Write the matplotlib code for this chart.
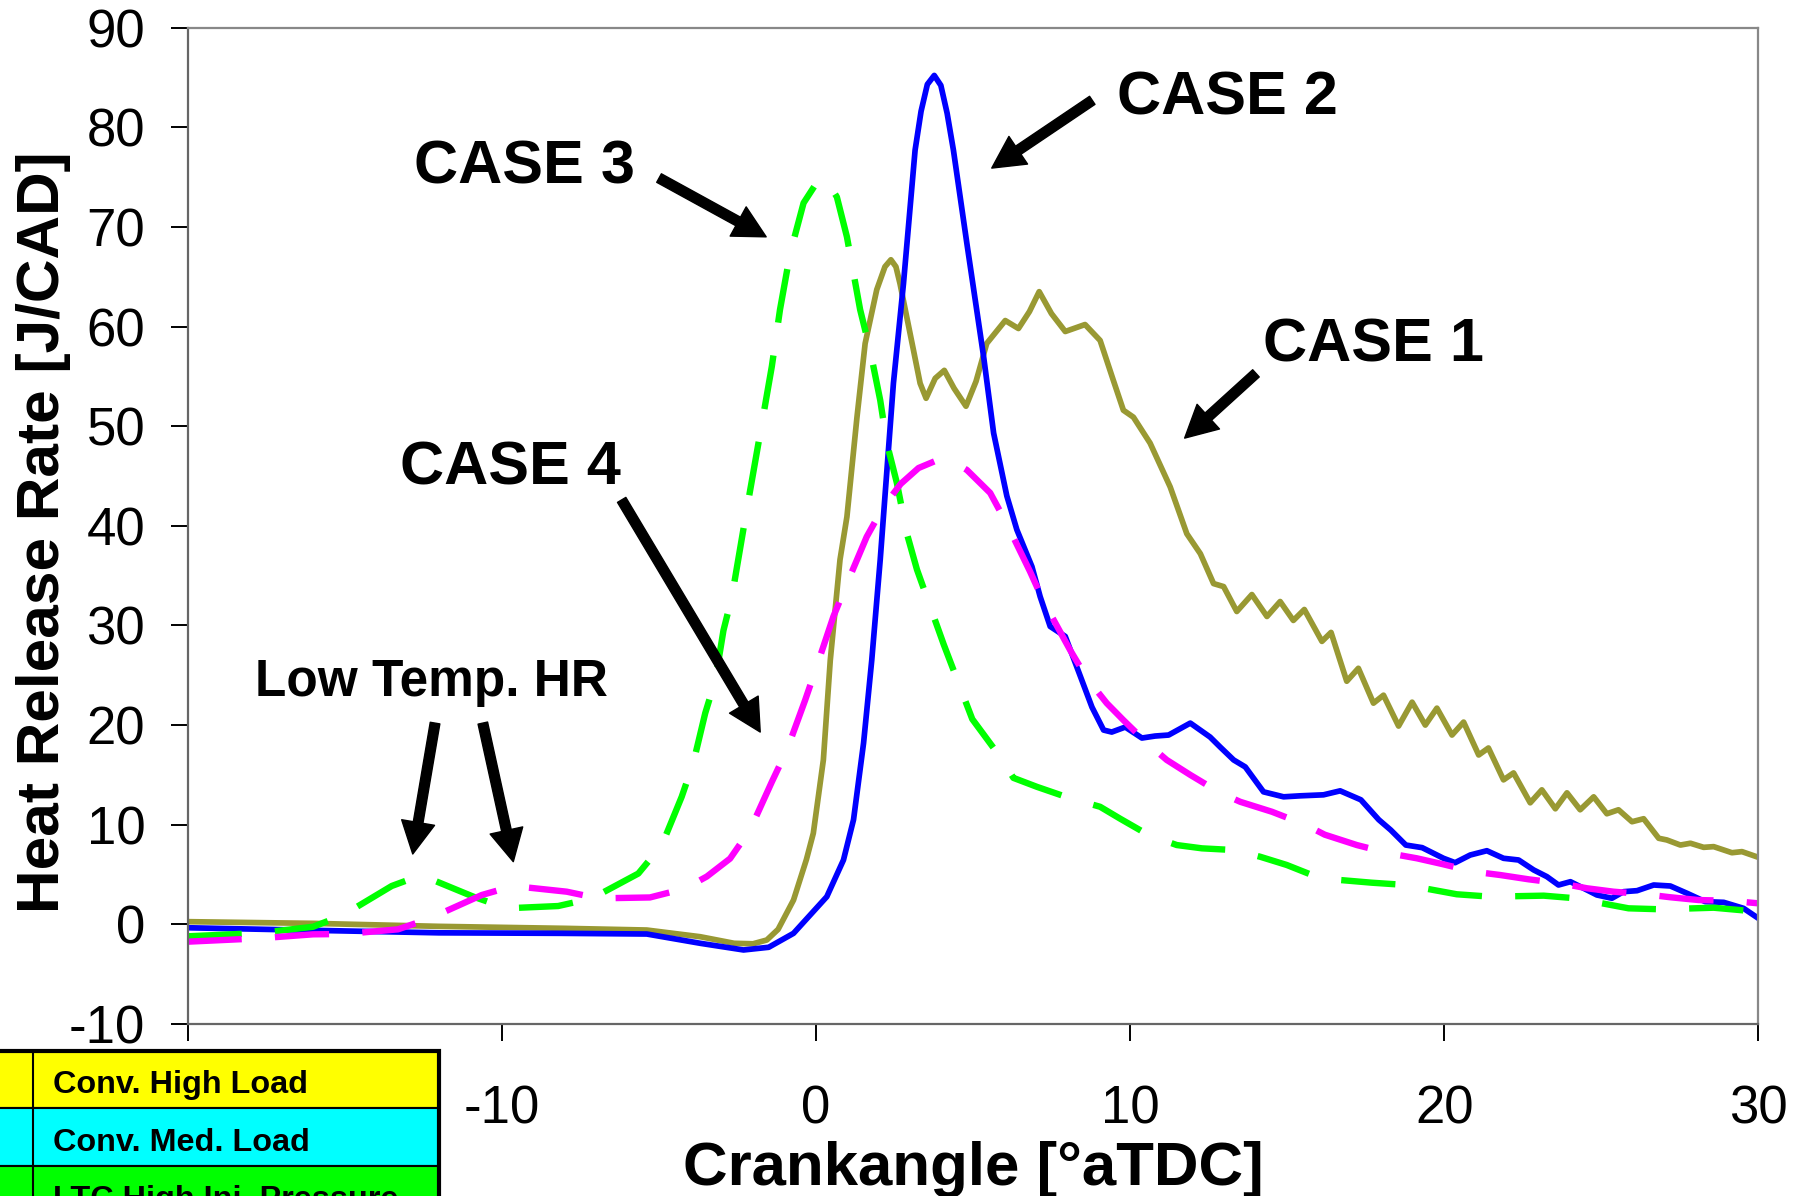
import numpy as np
import matplotlib
matplotlib.use('Agg')
import matplotlib.pyplot as plt
from matplotlib.patches import Rectangle

plt.rcParams['font.family'] = 'Liberation Sans'
plt.rcParams['axes.unicode_minus'] = False

# Heat release traces, crank angle [deg aTDC] vs HRR [J/CAD]
case1_x = [-20, -16, -12, -8, -5.38, -3.68, -2.6, -2.0, -1.56, -1.2, -0.71, -0.3, -0.08, 0.24,
           0.46, 0.77, 0.99, 1.31, 1.57, 1.94, 2.2, 2.39, 2.55, 2.68, 3.11, 3.32, 3.51, 3.8,
           4.09, 4.4, 4.78, 5.1, 5.44, 6.03, 6.45, 6.8, 7.11, 7.5, 7.94, 8.57, 9.05, 9.47,
           9.79, 10.11, 10.64, 11.28, 11.81, 12.24, 12.66, 12.98, 13.4, 13.88, 14.36, 14.78,
           15.2, 15.55, 16.11, 16.4, 16.9, 17.27, 17.75, 18.07, 18.55, 18.98, 19.4, 19.77,
           20.25, 20.62, 21.1, 21.41, 21.89, 22.21, 22.74, 23.11, 23.54, 23.91, 24.33, 24.76,
           25.18, 25.55, 25.98, 26.35, 26.83, 27.09, 27.52, 27.84, 28.26, 28.58, 29.16, 29.48,
           30]
case1_y = [0.27, 0.1, -0.2, -0.4, -0.57, -1.24, -1.9, -1.95, -1.57, -0.5, 2.44, 6.5, 9.14, 16.5,
           26.5, 36.6, 40.9, 50.9, 58.3, 63.7, 66.0, 66.7, 66.0, 64.3, 57.6, 54.3, 52.8, 54.8,
           55.6, 53.8, 52.0, 54.5, 58.3, 60.6, 59.8, 61.5, 63.5, 61.3, 59.5, 60.2, 58.6, 54.6,
           51.6, 50.9, 48.3, 43.9, 39.2, 37.2, 34.2, 33.9, 31.4, 33.1, 30.9, 32.4,
           30.5, 31.6, 28.4, 29.3, 24.4, 25.7, 22.2, 23.0, 19.9, 22.3, 20.0, 21.7,
           19.0, 20.3, 17.0, 17.7, 14.5, 15.2, 12.2, 13.5, 11.6, 13.2, 11.5, 12.8,
           11.1, 11.5, 10.3, 10.6, 8.64, 8.47, 7.96, 8.14, 7.73, 7.8, 7.19, 7.3,
           6.73]

case2_x = [-20, -16, -12, -8.14, -5.38, -3.68, -2.3, -1.5, -0.71, 0.35, 0.88, 1.2, 1.52, 1.78,
           2.05, 2.47, 2.79, 3.16, 3.35, 3.55, 3.77, 3.98, 4.18, 4.38, 4.81, 5.34, 5.66, 6.08,
           6.4, 6.88, 7.14, 7.46, 7.94, 8.42, 8.79, 9.16, 9.42, 9.85, 10.38, 10.8, 11.23,
           11.92, 12.55, 12.87, 13.3, 13.67, 14.25, 14.89, 15.42, 16.16, 16.69, 17.35, 17.92,
           18.3, 18.78, 19.3, 19.98, 20.35, 20.83, 21.36, 21.89, 22.37, 22.85, 23.27, 23.64,
           24.02, 24.44, 24.86, 25.34, 25.71, 26.14, 26.67, 27.2, 27.73, 28.31, 28.9, 29.53,
           30]
case2_y = [-0.34, -0.6, -0.85, -0.9, -0.97, -1.9, -2.57, -2.3, -0.9, 2.78, 6.46, 10.5, 18.2, 26.5,
           36.6, 54.3, 64.3, 77.7, 81.6, 84.3, 85.2, 84.2, 81.4, 77.7, 68.3, 57.0, 49.3, 43.0,
           39.6, 35.9, 32.9, 29.9, 28.9, 24.9, 21.8, 19.5, 19.3, 19.8, 18.7, 18.9, 19.0,
           20.2, 18.8, 17.8, 16.5, 15.8, 13.3, 12.8, 12.9, 13.0, 13.4, 12.5, 10.5,
           9.47, 7.96, 7.7, 6.63, 6.19, 6.96, 7.39, 6.63, 6.46, 5.46, 4.79, 3.95,
           4.28, 3.62, 2.95, 2.62, 3.28, 3.38, 3.95, 3.85, 3.12, 2.28, 2.21, 1.61,
           0.61]

case3_x = [-20, -17.7, -16.0, -15.04, -13.5, -12.6, -12.44, -10.9, -9.84, -8.2, -7.13, -5.65,
           -4.9, -4.27, -3.9, -3.52, -3.2, -2.94, -2.67, -2.2, -1.77, -1.4, -1.14, -0.82,
           -0.39, 0.0, 0.3, 0.67, 0.99, 1.41, 1.73, 2.05, 2.26, 2.58, 2.9, 3.22, 4.07, 4.98,
           5.87, 6.29, 7.04, 8.1, 9.05, 9.69, 10.59, 11.49, 12.29, 13.3, 14.14, 14.99, 16.06,
           17.7, 18.8, 20.4, 21.47, 23.17, 24.17, 25.87, 26.93, 28.58, 30]
case3_y = [-1.2, -0.87, -0.24, 0.94, 3.85, 4.9, 4.78, 2.78, 1.61, 1.84, 2.6, 5.1,
           7.96, 12.8, 16.2, 21.2, 24.5, 29.5, 32.9, 41.6, 49.3, 56.0, 61.7, 67.3,
           72.4, 74.3, 74.9, 73.0, 69.0, 61.7, 57.6, 52.6, 48.3, 44.3, 39.2, 35.6, 28.1, 20.6,
           16.8, 14.7, 13.8, 12.65, 11.8, 10.6, 8.97, 7.96, 7.63, 7.46, 6.79, 5.96, 4.62,
           4.18, 3.95, 3.02, 2.78, 2.88, 2.62, 1.61, 1.51, 1.67, 1.27]

case4_x = [-20, -17.7, -16.0, -15.0, -13.3, -12.28, -10.63, -9.63, -7.93, -6.92, -5.28, -4.16,
           -3.47, -2.73, -2.09, -1.4, -0.92, -0.34, 0.03, 0.56, 0.99, 1.62, 2.15, 2.7, 3.27,
           3.8, 4.28, 4.81, 5.55, 6.08, 6.82, 7.25, 8.1, 8.63, 9.26, 9.79, 10.54, 11.17, 11.92,
           12.87, 13.51, 14.52, 15.58, 16.2, 17.22, 18.25, 19.13, 19.93, 20.94, 21.79, 22.69,
           23.7, 24.55, 25.39, 26.4, 27.2, 28.1, 29.11, 30]
case4_y = [-1.74, -1.4, -1.0, -0.97, -0.5, 0.61, 2.95, 3.85, 3.28, 2.61, 2.7, 3.6,
           4.8, 6.6, 9.5, 14.3, 17.5, 22.5, 25.9, 30.9, 34.2, 38.9, 41.9, 44.2, 45.8,
           46.5, 46.6, 45.6, 43.3, 40.2, 35.4, 32.4, 27.5, 24.7, 22.2, 20.5, 18.2, 16.5, 15.0,
           13.2, 12.3, 11.3, 10.0, 9.0, 7.96, 7.13, 6.63, 6.06, 5.29, 4.95, 4.52,
           4.12, 3.62, 3.28, 3.02, 2.72, 2.44, 2.37, 2.11]

x_ticks = [-20, -10, 0, 10, 20, 30]
# the -20 label sits under the key table
x_tick_labels = ['', '-10', '0', '10', '20', '30']
y_ticks = [-10, 0, 10, 20, 30, 40, 50, 60, 70, 80, 90]

# callouts: label, text anchor (left, baseline), arrow tails and tips
callouts = [
    ('CASE 2', (9.60, 81.3), [((8.80, 82.7), (5.60, 75.9))], 44),
    ('CASE 3', (-12.80, 74.4), [((-4.99, 74.9), (-1.58, 69.0))], 44),
    ('CASE 1', (14.22, 56.5), [((14.01, 55.3), (11.74, 48.8))], 44),
    ('CASE 4', (-13.23, 44.1), [((-6.18, 42.6), (-1.77, 19.3))], 44),
    ('Low Temp. HR', (-17.86, 22.9), [((-12.12, 20.2), (-12.83, 7.06)),
                                      ((-10.60, 20.2), (-9.63, 6.29))], 37),
]

legend_labels = ['Conv. High Load', 'Conv. Med. Load', 'LTC High Inj. Pressure']
legend_colors = ['#ffff00', '#00ffff', '#00ff00']

W, H = 1804, 1196
fig = plt.figure(figsize=(W / 100, H / 100), dpi=100)
ax = fig.add_axes([187.5 / W, 1 - 1024 / H, 1570.8 / W, 996.4 / H])

ax.plot(case1_x, case1_y, color='#999933', lw=4.1, solid_joinstyle='round')
ax.plot(case2_x, case2_y, color='#0000ff', lw=4.1, solid_joinstyle='round')
ax.plot(case3_x, case3_y, color='#00ff00', lw=4.6, dashes=(8.5, 5.2), dash_capstyle='butt')
ax.plot(case4_x, case4_y, color='#ff00ff', lw=4.6, dashes=(8.5, 5.2), dash_capstyle='butt')

ax.set_xlim(-20, 30)
ax.set_ylim(-10, 90)
ax.set_xticks(x_ticks)
ax.set_xticklabels(x_tick_labels)
ax.set_yticks(y_ticks)
ax.tick_params(direction='out', length=12.5, width=1.4, color='black', labelsize=38)
ax.tick_params(axis='x', pad=31)
ax.tick_params(axis='y', pad=18)
for side in ['left', 'bottom']:
    ax.spines[side].set_color('#666666')
    ax.spines[side].set_linewidth(1.6)
for side in ['top', 'right']:
    ax.spines[side].set_color('#888888')
    ax.spines[side].set_linewidth(1.6)

ax.set_xlabel('Crankangle [°aTDC]', fontsize=44.5, fontweight='bold')
ax.xaxis.set_label_coords(0.5, -0.1175)
ax.set_ylabel('Heat Release Rate [J/CAD]', fontsize=43.5, fontweight='bold')
ax.yaxis.set_label_coords(-0.0742, 0.494)

for label, pos, arrows, size in callouts:
    ax.text(pos[0], pos[1], label, fontsize=size, fontweight='bold',
            ha='left', va='baseline')
    for tail, tip in arrows:
        ax.annotate('', xy=tip, xytext=tail,
                    arrowprops=dict(width=7, headwidth=24, headlength=23,
                                    facecolor='black', edgecolor='black', shrink=0))

# case key table in the lower left corner, laid out in pixel units
tab = fig.add_axes([0, 0, 441 / W, (H - 1049) / H])
tab.set_xlim(0, 441)
tab.set_ylim(H, 1049)
tab.axis('off')
row_tops = [1051, 1108.3, 1165.7]
row_h = 57.4
for top, name, col in zip(row_tops, legend_labels, legend_colors):
    tab.add_patch(Rectangle((-10, top), 449, row_h, facecolor=col, edgecolor='black',
                            lw=1.5, clip_on=False))
    tab.text(53, top + 42.3, name, fontsize=23.3, fontweight='bold',
             ha='left', va='baseline', clip_on=False)
tab.plot([32.7, 32.7], [1051, H + 10], color='black', lw=1.5, clip_on=False)
tab.plot([439, 439, -10], [H + 10, 1051, 1051], color='black', lw=3,
         solid_joinstyle='miter', clip_on=False)

fig.savefig('out.png', dpi=100)
